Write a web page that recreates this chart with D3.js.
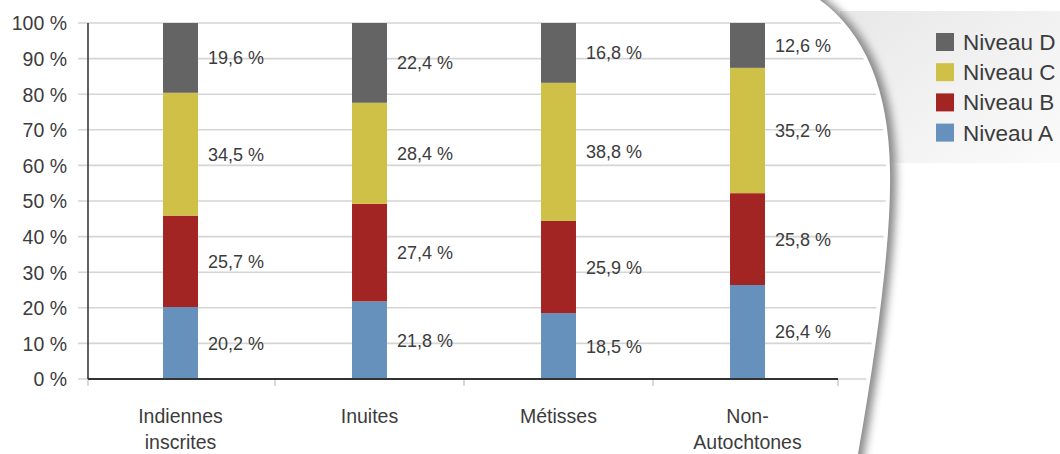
<!DOCTYPE html>
<html>
<head>
<meta charset="utf-8">
<script src="https://cdn.jsdelivr.net/npm/d3@7"></script>
<style>
  html, body { margin: 0; padding: 0; background: #ffffff; }
  svg { display: block; }
  text { font-family: "Liberation Sans", Arial, sans-serif; fill: #3c3c3c; }
</style>
</head>
<body>
<svg id="chart" width="1060" height="454"></svg>
<script>
// Groups shown along the horizontal axis (two-line labels)
const categories = ["Indiennes inscrites", "Inuites", "Métisses", "Non-Autochtones"];
const categoryLines = [["Indiennes", "inscrites"], ["Inuites"], ["Métisses"], ["Non-", "Autochtones"]];

// Share of each level, in percent, per group
const levelNames = ["Niveau A", "Niveau B", "Niveau C", "Niveau D"];
const niveauA = [20.2, 21.8, 18.5, 26.4];
const niveauB = [25.7, 27.4, 25.9, 25.8];
const niveauC = [34.5, 28.4, 38.8, 35.2];
const niveauD = [19.6, 22.4, 16.8, 12.6];

const yTicks = [0, 10, 20, 30, 40, 50, 60, 70, 80, 90, 100];
const levelColors = ["#6591bc", "#a32523", "#cfc047", "#656465"];

const svg = d3.select("#chart");
const defs = svg.append("defs");

// ---- background: legend panel sitting behind the curled page ----
const panelGrad = defs.append("linearGradient").attr("id", "panelGrad")
  .attr("x1", 0).attr("y1", 0).attr("x2", 1).attr("y2", 1);
panelGrad.append("stop").attr("offset", "0%").attr("stop-color", "#e8e8e9");
panelGrad.append("stop").attr("offset", "100%").attr("stop-color", "#fbfbfb");

const soft = defs.append("filter").attr("id", "soft")
  .attr("x", "-20%").attr("y", "-50%").attr("width", "140%").attr("height", "200%");
soft.append("feGaussianBlur").attr("stdDeviation", 1.6);

const bg = svg.append("g");
bg.append("rect").attr("x", 840).attr("y", 11).attr("width", 230).attr("height", 152)
  .attr("fill", "url(#panelGrad)");
bg.append("line").attr("x1", 840).attr("x2", 1070).attr("y1", 11.5).attr("y2", 11.5)
  .attr("stroke", "#cfcfcf").attr("stroke-width", 2).attr("filter", "url(#soft)");
bg.append("line").attr("x1", 840).attr("x2", 1070).attr("y1", 163.5).attr("y2", 163.5)
  .attr("stroke", "#b8b8b8").attr("stroke-width", 2.5).attr("filter", "url(#soft)");

// ---- legend ----
const legendOrder = [3, 2, 1, 0];
const legend = svg.append("g");
legendOrder.forEach((li, i) => {
  const cy = 42 + i * 30.2;
  legend.append("rect").attr("x", 936).attr("y", cy - 9).attr("width", 18).attr("height", 18)
    .attr("fill", levelColors[li]);
  legend.append("text").attr("x", 963).attr("y", cy + 8)
    .style("font-size", "22.5px").text(levelNames[li]);
});

// ---- the page: white sheet with curled right edge and drop shadow ----
const pagePath = "M-20,-20 L812,-20 L820,0 Q888,50 890,170 Q892,260 858,454 L858,480 L-20,480 Z";

const shadowFilter = defs.append("filter").attr("id", "pageShadow")
  .attr("x", "-10%").attr("y", "-10%").attr("width", "130%").attr("height", "130%");
shadowFilter.append("feGaussianBlur").attr("stdDeviation", 4);

svg.append("path").attr("d", pagePath)
  .attr("transform", "translate(6,0)")
  .attr("fill", "#7d7d7d").attr("opacity", 0.9)
  .attr("filter", "url(#pageShadow)");
svg.append("path").attr("d", pagePath).attr("fill", "#ffffff");

defs.append("clipPath").attr("id", "pageClip")
  .append("path").attr("d", pagePath)
  .attr("transform", "translate(-4,0)");

// ---- scales ----
const x = d3.scaleBand().domain(categories).range([86, 842])
  .paddingInner(0.815).paddingOuter(0.4075);
const y = d3.scaleLinear().domain([0, 100]).range([379, 23]);

const step = x.step();

// ---- gridlines ----
const grid = svg.append("g").attr("clip-path", "url(#pageClip)");
grid.selectAll("line").data(yTicks).join("line")
  .attr("x1", 78).attr("x2", 900)
  .attr("y1", d => y(d)).attr("y2", d => y(d))
  .attr("stroke", "#d5d5d5").attr("stroke-width", 1.6);

// ---- y axis labels ----
const yAxis = d3.axisLeft(y).tickValues(yTicks).tickSize(0).tickPadding(0)
  .tickFormat(d => d + " %");
const yg = svg.append("g").attr("transform", "translate(67,0)").call(yAxis);
yg.select(".domain").remove();
yg.selectAll("text").attr("fill", "#3c3c3c").attr("dy", "0.35em")
  .style("font-size", "19.5px").style("font-family", "Liberation Sans, Arial, sans-serif");

// ---- stacked bars ----
const table = categories.map((c, i) => ({
  cat: c, "Niveau A": niveauA[i], "Niveau B": niveauB[i], "Niveau C": niveauC[i], "Niveau D": niveauD[i]
}));
const series = d3.stack().keys(levelNames)(table);

const bars = svg.append("g");
series.forEach((s, si) => {
  bars.selectAll(null).data(s).join("rect")
    .attr("x", d => x(d.data.cat))
    .attr("width", x.bandwidth())
    .attr("y", d => y(d[1]))
    .attr("height", d => y(d[0]) - y(d[1]))
    .attr("fill", levelColors[si]);
  bars.selectAll(null).data(s).join("text")
    .attr("x", d => x(d.data.cat) + x.bandwidth() + 10)
    .attr("y", d => y((d[0] + d[1]) / 2))
    .attr("dy", "0.36em")
    .style("font-size", "18px")
    .text(d => d3.format(".1f")(d[1] - d[0]).replace(".", ",") + " %");
});

// ---- axis lines ----
const axisLeftX = x.range()[0] + 2;
const axisRightX = x.range()[1] - 4;
svg.append("line").attr("x1", axisLeftX).attr("x2", axisLeftX).attr("y1", y(100)).attr("y2", y(0))
  .attr("stroke", "#3a3a3a").attr("stroke-width", 1.6);

// category boundary ticks below the axis
const boundaries = categories.map(c => x(c) - step * x.paddingInner() / 2);
boundaries[0] = axisLeftX;
boundaries.push(axisRightX);
svg.append("g").selectAll("line").data(boundaries).join("line")
  .attr("x1", d => d).attr("x2", d => d).attr("y1", y(0)).attr("y2", y(0) + 7)
  .attr("stroke", "#d0d0d0").attr("stroke-width", 1.6);

svg.append("line").attr("x1", axisLeftX).attr("x2", axisRightX).attr("y1", y(0)).attr("y2", y(0))
  .attr("stroke", "#333333").attr("stroke-width", 2);

// ---- category labels ----
const xl = svg.append("g");
categories.forEach((c, i) => {
  const t = xl.append("text")
    .attr("x", x(c) + x.bandwidth() / 2).attr("y", 423)
    .attr("text-anchor", "middle").style("font-size", "19.5px");
  categoryLines[i].forEach((ln, k) => {
    t.append("tspan").attr("x", x(c) + x.bandwidth() / 2).attr("dy", k === 0 ? 0 : 26).text(ln);
  });
});
</script>
</body>
</html>
